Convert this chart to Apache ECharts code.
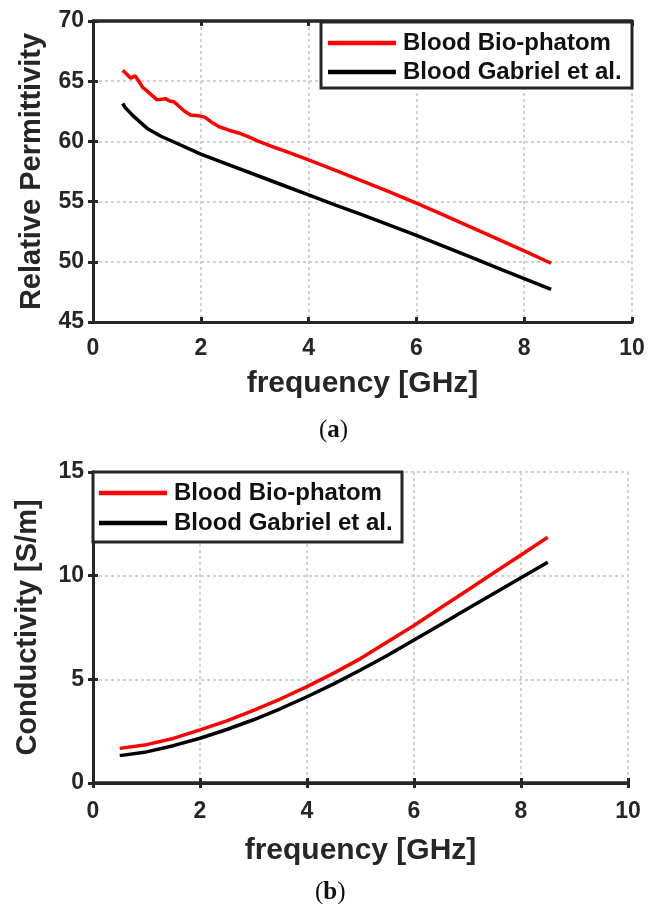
<!DOCTYPE html>
<html>
<head>
<meta charset="utf-8">
<script src="https://cdn.jsdelivr.net/npm/echarts@6/dist/echarts.min.js"></script>
<style>html,body{margin:0;padding:0;background:#fff}#c{width:649px;height:904px}</style>
</head>
<body>
<div id="c"></div>
<script>
// ---- Data ----
const seriesNames = ['Blood Bio-phatom', 'Blood Gabriel et al.'];
const xTicks = [0, 2, 4, 6, 8, 10];

// (a) Relative permittivity
const freqA = [0.55,0.6,0.7,0.78,0.85,0.92,1.0,1.1,1.19,1.27,1.35,1.42,1.5,1.6,1.7,1.81,1.9,2.0,2.08,2.2,2.35,2.51,2.7,2.88,3.05,3.22,3.4,3.59,3.8,4.0,4.5,5.0,5.5,6.0,6.5,7.0,7.5,8.0,8.5];
const permBio = [65.9,65.7,65.25,65.45,65.0,64.5,64.2,63.8,63.45,63.5,63.55,63.35,63.3,62.9,62.5,62.2,62.15,62.1,62.0,61.6,61.2,60.95,60.7,60.4,60.05,59.76,59.45,59.15,58.8,58.46,57.6,56.7,55.8,54.87,53.9,52.9,51.9,50.9,49.88];
const freqB = [0.55,0.6,0.75,1.0,1.25,1.5,2,2.5,3,3.5,4,4.5,5,5.5,6,6.5,7,7.5,8,8.5];
const permGab = [63.15,62.8,62.1,61.1,60.45,59.95,58.95,58.1,57.25,56.4,55.55,54.7,53.9,53.05,52.2,51.3,50.4,49.5,48.6,47.7];

// (b) Conductivity
const freqC = [0.5,1,1.5,2,2.5,3,3.5,4,4.5,5,5.5,6,6.5,7,7.5,8,8.5];
const condBio = [1.67,1.85,2.15,2.56,3.0,3.5,4.05,4.65,5.3,6.0,6.8,7.6,8.45,9.3,10.15,11.0,11.85];
const condGab = [1.32,1.5,1.8,2.16,2.58,3.05,3.58,4.16,4.78,5.45,6.15,6.9,7.65,8.4,9.15,9.9,10.65];

const permTicks = [45, 50, 55, 60, 65, 70];
const condTicks = [0, 5, 10, 15];

// ---- Styling ----
const TXT = '#262626';
const FONT = "'Liberation Sans', Arial, sans-serif";
const SERIF = "'Liberation Serif', 'DejaVu Serif', serif";
const zip = (xs, ys) => xs.map((x, i) => [x, ys[i]]);
const GRIDLINE = { show: true, lineStyle: { color: '#d2d2d2', width: 2, type: [3, 3] } };

function mainX(grid, name, gap, margin) {
  return {
    type: 'value', gridIndex: grid, min: xTicks[0], max: xTicks[xTicks.length - 1], interval: 2,
    name: name, nameLocation: 'middle', nameGap: gap,
    nameTextStyle: { color: TXT, fontFamily: FONT, fontWeight: 'bold', fontSize: 30 },
    axisLine: { show: true, lineStyle: { color: TXT, width: 3 } },
    axisTick: { show: true, inside: true, length: 5, lineStyle: { color: TXT, width: 3 } },
    axisLabel: { color: TXT, fontFamily: FONT, fontWeight: 'bold', fontSize: 23, margin: margin, showMinLabel: true, showMaxLabel: true },
    splitLine: GRIDLINE
  };
}
function topX(grid) {
  return {
    type: 'value', gridIndex: grid, position: 'top', min: xTicks[0], max: xTicks[xTicks.length - 1], interval: 2,
    axisLine: { show: true, lineStyle: { color: TXT, width: 3.5 } },
    axisTick: { show: true, inside: true, length: 5, lineStyle: { color: TXT, width: 3 } },
    axisLabel: { show: false }, splitLine: { show: false }
  };
}
function mainY(grid, ticks, interval, name, gap) {
  return {
    type: 'value', gridIndex: grid, min: ticks[0], max: ticks[ticks.length - 1], interval: interval,
    name: name, nameLocation: 'middle', nameGap: gap,
    nameTextStyle: { color: TXT, fontFamily: FONT, fontWeight: 'bold', fontSize: 29 },
    axisLine: { show: true, lineStyle: { color: TXT, width: 3 } },
    axisTick: { show: true, inside: true, length: 5, lineStyle: { color: TXT, width: 3 } },
    axisLabel: { color: TXT, fontFamily: FONT, fontWeight: 'bold', fontSize: 23, margin: 9 },
    splitLine: GRIDLINE
  };
}
function rightY(grid, ticks, interval) {
  return {
    type: 'value', gridIndex: grid, position: 'right', min: ticks[0], max: ticks[ticks.length - 1], interval: interval,
    axisLine: { show: true, lineStyle: { color: TXT, width: 3 } },
    axisTick: { show: true, inside: true, length: 5, lineStyle: { color: TXT, width: 3 } },
    axisLabel: { show: false }, splitLine: { show: false }
  };
}
function lineSeries(name, xi, yi, data, color) {
  return {
    type: 'line', name: name, xAxisIndex: xi, yAxisIndex: yi, data: data,
    showSymbol: false, symbol: 'none', smooth: false, animation: false,
    lineStyle: { color: color, width: 3.5 }, itemStyle: { color: color }, z: 2
  };
}
function legendAt(left, top, pad, gap) {
  return {
    data: seriesNames, orient: 'vertical', left: left, top: top, padding: pad, itemGap: gap,
    icon: 'rect', itemWidth: 68, itemHeight: 4.5, z: 10,
    textStyle: { color: '#111', fontFamily: FONT, fontWeight: 'bold', fontSize: 24, lineHeight: 24, padding: [0, 0, 0, 2] },
    selectedMode: false
  };
}
function caption(letter, left, top) {
  return { text: '{p|(}{b|' + letter + '}{p|)}', left: left, top: top, textStyle: { rich: {
    p: { fontFamily: SERIF, fontSize: 25, fontWeight: 'normal', color: '#111' },
    b: { fontFamily: SERIF, fontSize: 25, fontWeight: 'bold', color: '#111' } } } };
}

const chart = echarts.init(document.getElementById('c'), null, { renderer: 'canvas' });
chart.setOption({
  backgroundColor: '#fff',
  animation: false,
  grid: [
    { left: 93, top: 21, width: 539, height: 301, containLabel: false },
    { left: 93, top: 472, width: 535, height: 311, containLabel: false }
  ],
  xAxis: [mainX(0, 'frequency [GHz]', 47, 15), topX(0), mainX(1, 'frequency [GHz]', 53, 17), topX(1)],
  yAxis: [
    mainY(0, permTicks, 5, 'Relative Permittivity', 47), rightY(0, permTicks, 5),
    mainY(1, condTicks, 5, 'Conductivity [S/m]', 51), rightY(1, condTicks, 5)
  ],
  legend: [legendAt(321, 23, [8, 10, 5, 7], 5), legendAt(93, 472, [9, 10, 5, 6], 6)],
  graphic: [
    { type: 'rect', shape: { x: 321, y: 22, width: 311, height: 66 }, style: { fill: '#fff', stroke: TXT, lineWidth: 3 }, z: 5 },
    { type: 'rect', shape: { x: 93, y: 472, width: 309, height: 70 }, style: { fill: '#fff', stroke: TXT, lineWidth: 3 }, z: 5 }
  ],
  title: [caption('a', 314, 413), caption('b', 310, 875)],
  series: [
    lineSeries(seriesNames[0], 0, 0, zip(freqA, permBio), '#ff0000'),
    lineSeries(seriesNames[1], 0, 0, zip(freqB, permGab), '#000000'),
    lineSeries(seriesNames[0], 2, 2, zip(freqC, condBio), '#ff0000'),
    lineSeries(seriesNames[1], 2, 2, zip(freqC, condGab), '#000000')
  ]
});
</script>
</body>
</html>
